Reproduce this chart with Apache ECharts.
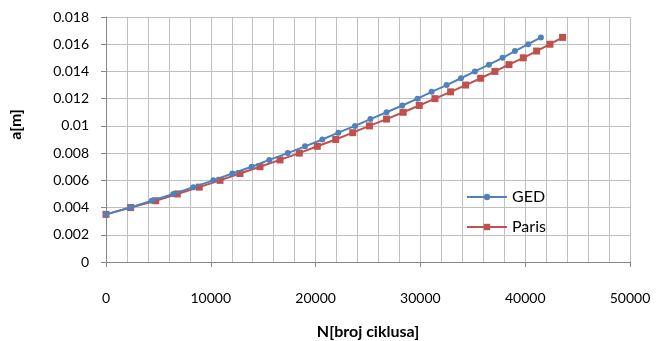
<!DOCTYPE html>
<html><head><meta charset="utf-8">
<script src="https://cdn.jsdelivr.net/npm/echarts@6/dist/echarts.min.js"></script>
<style>html,body{margin:0;padding:0;background:#fff}#c{width:657px;height:341px}</style>
</head><body><div id="c"></div>
<script>
const aValues = [0.0035,0.004,0.0045,0.005,0.0055,0.006,0.0065,0.007,0.0075,0.008,0.0085,0.009,0.0095,0.01,0.0105,0.011,0.0115,0.012,0.0125,0.013,0.0135,0.014,0.0145,0.015,0.0155,0.016,0.0165];
const gedN = [0,2350,4360,6420,8330,10240,12050,13900,15580,17340,18990,20640,22170,23760,25230,26770,28270,29730,31070,32500,33870,35200,36540,37840,39020,40290,41500];
const parisN = [0,2350,4740,6800,8900,10880,12780,14690,16600,18440,20160,21920,23540,25140,26770,28360,29890,31390,32880,34320,35750,37110,38450,39820,41090,42360,43570];
const seriesNames = ['GED','Paris'];
const xTitle = 'N[broj ciklusa]';
const yTitle = 'a[m]';

const font = 'Lato, "Open Sans", sans-serif';
const chart = echarts.init(document.getElementById('c'));
chart.setOption({
  animation:false,
  textStyle:{fontFamily:font},
  grid:{left:106,right:27,top:17,bottom:79,outerBoundsMode:'none',containLabel:false},
  legend:{
    orient:'vertical', left:461, top:184, itemGap:14,
    itemWidth:40, itemHeight:8,
    textStyle:{fontFamily:font,fontSize:16,color:'#000'},
    data:seriesNames
  },
  xAxis:{
    type:'value', min:0, max:50000, interval:10000,
    name:xTitle, nameLocation:'middle', nameGap:62,
    nameTextStyle:{fontFamily:font,fontSize:16,fontWeight:'bold',color:'#000'},
    axisLine:{show:true,lineStyle:{color:'#868686'}},
    axisTick:{show:true,length:5,lineStyle:{color:'#868686'}},
    axisLabel:{fontFamily:font,fontSize:14,color:'#000',margin:29,
      formatter:v=>String(v)},
    splitLine:{show:true,lineStyle:{color:'#bfbfbf'}},
    minorTick:{show:false,splitNumber:5},
    minorSplitLine:{show:true,lineStyle:{color:'#bfbfbf'}}
  },
  yAxis:{
    type:'value', min:0, max:0.018, interval:0.002,
    name:yTitle, nameLocation:'middle', nameGap:82, nameRotate:90,
    nameTextStyle:{fontFamily:font,fontSize:16,fontWeight:'bold',color:'#000',padding:[0,0,0,30]},
    axisLine:{show:true,lineStyle:{color:'#868686'}},
    axisTick:{show:true,length:5,lineStyle:{color:'#868686'}},
    axisLabel:{fontFamily:font,fontSize:14,color:'#000',margin:17,
      formatter:v=>String(parseFloat(v.toFixed(4)))},
    splitLine:{show:true,lineStyle:{color:'#bfbfbf'}}
  },
  series:[
    {name:seriesNames[0],type:'line',data:gedN.map((n,i)=>[n,aValues[i]]),
     symbol:'circle',symbolSize:6,showSymbol:true,
     itemStyle:{color:'#4f81bd'},lineStyle:{color:'#4f81bd',width:2},z:3},
    {name:seriesNames[1],type:'line',data:parisN.map((n,i)=>[n,aValues[i]]),
     symbol:'rect',symbolSize:7,showSymbol:true,
     itemStyle:{color:'#c0504d'},lineStyle:{color:'#c0504d',width:2},z:2}
  ]
});
</script></body></html>
